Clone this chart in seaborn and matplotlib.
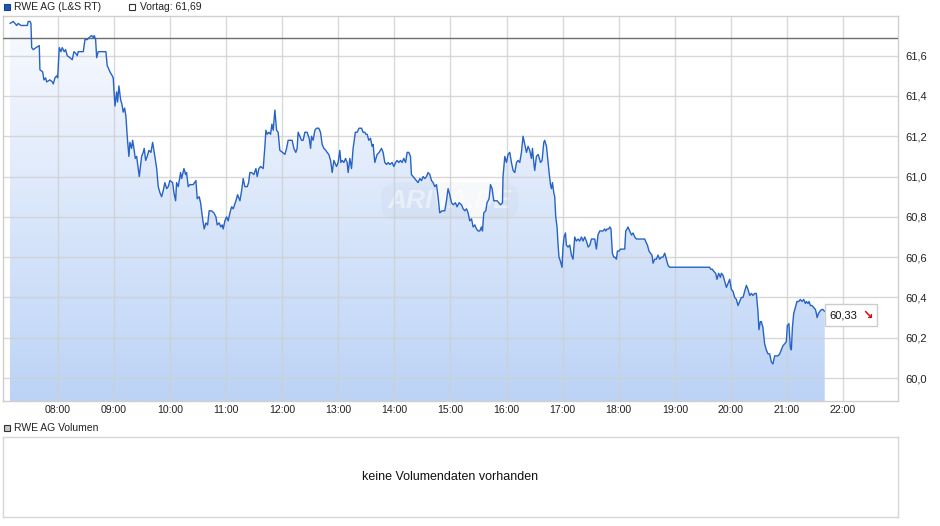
import numpy as np
import pandas as pd
import matplotlib
matplotlib.use("Agg")
import matplotlib.pyplot as plt
import matplotlib.dates as mdates
import seaborn as sns
from matplotlib.colors import LinearSegmentedColormap
from matplotlib.offsetbox import TextArea, HPacker, AnnotationBbox
from matplotlib.patches import Rectangle

# ---------------- data ----------------
minutes_after_0700 = [
    8.7, 12.2, 14.0, 15.8, 17.5, 20.4, 24.7, 27.2, 28.2, 30.1,
    31.1, 31.9, 33.6, 36.5, 40.0, 40.7, 43.6, 45.0, 46.8, 47.9,
    51.4, 53.9, 55.0, 56.8, 58.6, 59.7, 61.4, 63.2, 64.6, 66.7,
    68.2, 69.9, 72.8, 75.3, 77.1, 79.3, 80.6, 81.7, 83.5, 87.1,
    88.9, 91.3, 93.5, 96.0, 97.8, 98.8, 100.3, 101.4, 103.1, 108.4,
    111.3, 112.7, 113.8, 115.6, 118.1, 119.1, 121.0, 122.8, 123.8, 125.2,
    127.1, 128.4, 129.8, 131.3, 132.7, 134.1, 135.9, 137.0, 138.8, 139.9,
    141.3, 142.7, 144.2, 147.0, 149.5, 151.2, 152.3, 153.8, 155.5, 157.3,
    159.5, 161.3, 163.7, 165.6, 167.3, 169.1, 170.9, 172.6, 174.4, 176.3,
    178.0,
    179.8, 182.7, 184.1, 185.9, 186.9, 188.7, 191.2, 192.3, 194.8, 196.6,
    197.6, 199.4, 201.2, 204.7, 207.6, 209.0, 211.1, 212.6, 214.8, 216.5,
    218.3, 220.1, 221.8, 224.4, 226.8, 229.0, 230.4, 232.5, 234.3, 235.7,
    236.8, 238.6, 240.4, 242.1, 244.0, 245.8, 247.5, 250.4, 252.2, 254.7,
    256.5, 258.2, 260.0, 262.5, 264.0, 265.3, 267.2, 269.6, 271.8, 273.2,
    275.0, 276.8, 279.6, 281.4, 282.5, 283.9, 285.7, 287.5, 288.9, 290.3,
    292.1, 293.9, 295.6, 297.4, 300.3, 302.8, 304.6, 306.3, 308.1, 310.6,
    312.4, 314.5, 315.9, 317.0, 318.8, 320.6, 322.3, 324.2, 326.6, 328.8,
    330.3, 331.3, 333.0, 334.9, 336.7, 339.1, 340.9, 342.7, 344.5, 346.6,
    348.0, 349.8, 351.7, 353.4, 355.2, 357.0, 358.0, 359.8, 361.6, 362.7,
    364.1, 365.9, 367.7, 369.4, 370.5, 372.3,
    374.1, 375.8, 378.2, 380.1, 382.2, 384.8, 386.5, 388.3, 389.4, 390.8,
    392.6, 394.4, 396.1, 397.2, 399.0, 401.5, 403.6, 406.2, 407.9, 409.7,
    411.5, 413.3, 415.1, 417.5, 419.4, 421.2, 422.9, 424.7, 426.5, 428.2,
    430.0, 431.9, 433.6, 435.4, 437.2, 438.2, 440.0, 441.8, 443.6, 445.3,
    447.2, 449.0, 450.7, 452.5, 454.3, 456.0, 457.9, 459.7, 461.4, 463.2,
    465.0, 466.7, 468.5, 471.0, 473.9, 475.7, 477.4, 479.2, 481.1, 482.8,
    485.3, 487.0, 489.2, 491.8, 493.5, 495.3, 497.1, 498.8, 500.6, 502.5,
    504.2, 506.0, 507.8, 509.5, 511.3, 513.1, 514.2, 515.6, 517.7, 519.1,
    521.3, 522.8, 524.5, 526.3, 528.1, 529.8, 531.6, 533.5, 535.6, 536.2,
    538.1, 539.9, 541.6, 543.4, 545.2, 547.0, 548.8, 550.6, 552.3, 554.1,
    555.9, 557.6, 559.5, 561.3, 563.0, 564.8, 566.6, 567.7, 569.1, 570.1,
    571.9, 573.7,
    574.5, 576.3, 578.0, 579.8, 580.8, 582.7, 584.4, 585.5, 587.0, 588.0,
    589.1, 590.5, 591.5, 592.6, 594.0, 595.1, 596.1, 597.6, 599.3, 600.4,
    601.5, 603.0, 604.0, 605.8, 607.6, 609.4, 611.1, 612.9, 614.7, 616.5,
    618.3, 620.1, 621.8, 623.6, 625.4, 627.3, 629.1, 630.8, 632.5, 634.3,
    636.1, 637.8, 639.7, 641.5, 643.2, 645.0, 646.1, 647.5, 649.3, 650.4,
    651.7, 653.2, 654.6, 656.0, 657.5, 658.6, 660.3, 661.8, 664.6, 666.4,
    667.5, 668.9, 669.9, 671.8, 673.6, 675.3, 677.1, 678.9, 682.4, 687.8,
    689.6, 690.7, 692.4, 693.9, 695.6, 696.7, 698.5, 700.3, 702.0, 703.8,
    705.6, 707.4, 709.2, 711.0, 712.7, 714.5, 757.3, 758.4, 760.2, 761.6,
    763.7, 765.1, 766.9, 768.8, 769.8, 771.6, 773.4, 775.2, 776.9, 778.7,
    780.5, 782.3, 784.1, 785.9, 787.6, 789.4, 791.2, 793.0, 794.7, 796.6,
    798.3, 800.1, 801.9, 803.6, 805.4, 807.2, 809.0, 810.0, 811.5, 812.6,
    814.3, 816.1, 817.9, 819.7, 821.5, 823.3, 825.0, 826.8, 828.6, 830.4,
    832.2, 834.0, 835.7, 837.5, 839.3, 840.4, 842.1, 843.6, 844.7, 845.8,
    847.2, 849.0, 850.7, 852.5, 854.3, 856.1, 857.9, 859.7, 860.8, 862.5,
    863.6, 865.1, 866.8, 868.6, 870.5, 871.5, 872.2, 873.7, 875.1, 876.9,
    878.6, 880.4,
]

price = [
    61.76, 61.77, 61.76, 61.75, 61.76, 61.75, 61.75, 61.75, 61.77, 61.77,
    61.76, 61.64, 61.63, 61.64, 61.65, 61.53, 61.52, 61.48, 61.49, 61.47,
    61.48, 61.47, 61.46, 61.49, 61.50, 61.49, 61.64, 61.62, 61.64, 61.62,
    61.63, 61.60, 61.59, 61.58, 61.62, 61.61, 61.60, 61.62, 61.62, 61.62,
    61.68, 61.68, 61.69, 61.70, 61.69, 61.70, 61.68, 61.59, 61.62, 61.62,
    61.62, 61.55, 61.54, 61.52, 61.50, 61.49, 61.35, 61.42, 61.37, 61.45,
    61.38, 61.36, 61.32, 61.34, 61.30, 61.20, 61.10, 61.17, 61.14, 61.18,
    61.14, 61.09, 61.10, 61.00, 61.10, 61.12, 61.14, 61.08, 61.10, 61.13,
    61.12, 61.17, 61.10, 61.04, 60.95, 60.92, 60.90, 60.93, 60.97, 60.94,
    60.95,
    60.98, 60.97, 60.92, 60.88, 60.97, 60.95, 61.02, 60.99, 61.04, 61.01,
    61.02, 60.95, 60.96, 60.96, 60.98, 60.89, 60.90, 60.87, 60.79, 60.74,
    60.77, 60.76, 60.83, 60.83, 60.82, 60.80, 60.76, 60.77, 60.75, 60.76,
    60.74, 60.78, 60.80, 60.78, 60.82, 60.85, 60.84, 60.88, 60.91, 60.88,
    60.93, 60.99, 60.95, 60.95, 60.97, 61.02, 61.02, 61.01, 61.04, 61.00,
    61.04, 61.05, 61.04, 61.15, 61.23, 61.21, 61.22, 61.21, 61.26, 61.23,
    61.33, 61.23, 61.22, 61.13, 61.12, 61.11, 61.14, 61.18, 61.18, 61.18,
    61.14, 61.12, 61.14, 61.22, 61.20, 61.18, 61.18, 61.22, 61.22, 61.19,
    61.14, 61.20, 61.18, 61.23, 61.24, 61.24, 61.22, 61.16, 61.14, 61.13,
    61.12, 61.11, 61.08, 61.02, 61.08, 61.06, 61.05, 61.07, 61.13, 61.07,
    61.08, 61.07, 61.09, 61.07, 61.02, 61.09,
    61.04, 61.14, 61.22, 61.22, 61.24, 61.24, 61.22, 61.22, 61.21, 61.21,
    61.18, 61.19, 61.15, 61.16, 61.07, 61.11, 61.12, 61.14, 61.12, 61.07,
    61.06, 61.07, 61.06, 61.07, 61.05, 61.07, 61.08, 61.07, 61.08, 61.07,
    61.09, 61.07, 61.12, 61.12, 61.10, 61.01, 61.00, 60.99, 60.98, 60.97,
    60.99, 60.98, 61.00, 60.99, 61.00, 61.02, 61.01, 60.98, 60.97, 60.95,
    60.96, 60.90, 60.82, 60.83, 60.83, 60.88, 60.94, 60.91, 60.87, 60.86,
    60.87, 60.85, 60.87, 60.86, 60.84, 60.83, 60.84, 60.82, 60.78, 60.79,
    60.75, 60.76, 60.74, 60.73, 60.73, 60.75, 60.73, 60.82, 60.83, 60.87,
    60.89, 60.96, 60.94, 60.88, 60.88, 60.88, 60.87, 60.86, 60.87, 61.00,
    61.10, 61.07, 61.11, 61.12, 61.07, 61.03, 61.02, 61.07, 61.08, 61.07,
    61.12, 61.20, 61.16, 61.12, 61.15, 61.13, 61.09, 61.14, 61.07, 61.03,
    61.10, 61.11,
    61.10, 61.07, 61.08, 61.17, 61.18, 61.15, 61.07, 61.02, 60.96, 60.94,
    60.97, 60.92, 60.90, 60.80, 60.75, 60.66, 60.60, 60.58, 60.55, 60.65,
    60.70, 60.72, 60.66, 60.65, 60.66, 60.61, 60.59, 60.70, 60.68, 60.69,
    60.68, 60.70, 60.68, 60.70, 60.68, 60.65, 60.66, 60.69, 60.69, 60.69,
    60.64, 60.71, 60.73, 60.73, 60.73, 60.74, 60.73, 60.74, 60.74, 60.75,
    60.74, 60.62, 60.60, 60.60, 60.59, 60.63, 60.63, 60.64, 60.64, 60.64,
    60.73, 60.74, 60.75, 60.73, 60.71, 60.72, 60.70, 60.69, 60.69, 60.69,
    60.67, 60.66, 60.63, 60.62, 60.61, 60.57, 60.59, 60.59, 60.61, 60.59,
    60.60, 60.60, 60.62, 60.59, 60.56, 60.55, 60.55, 60.54, 60.54, 60.53,
    60.52, 60.49, 60.52, 60.50, 60.52, 60.51, 60.48, 60.45, 60.47, 60.49,
    60.44, 60.43, 60.40, 60.39, 60.36, 60.38, 60.40, 60.40, 60.43, 60.46,
    60.44, 60.41, 60.42, 60.41, 60.42, 60.42, 60.33, 60.24, 60.28, 60.28,
    60.25, 60.17, 60.14, 60.12, 60.12, 60.08, 60.07, 60.11, 60.11, 60.11,
    60.12, 60.14, 60.16, 60.17, 60.18, 60.26, 60.27, 60.15, 60.14, 60.25,
    60.32, 60.35, 60.38, 60.38, 60.39, 60.38, 60.39, 60.37, 60.38, 60.37,
    60.38, 60.36, 60.36, 60.35, 60.34, 60.32, 60.30, 60.32, 60.33, 60.34,
    60.34, 60.33,
]

prev_close = 61.69
y_ticks = [60.0, 60.2, 60.4, 60.6, 60.8, 61.0, 61.2, 61.4, 61.6]
y_tick_labels = ["60,0", "60,2", "60,4", "60,6", "60,8", "61,0", "61,2", "61,4", "61,6"]
x_tick_hours = [8, 9, 10, 11, 12, 13, 14, 15, 16, 17, 18, 19, 20, 21, 22]
x_tick_labels = ["08:00", "09:00", "10:00", "11:00", "12:00", "13:00", "14:00",
                 "15:00", "16:00", "17:00", "18:00", "19:00", "20:00", "21:00", "22:00"]
legend_series = "RWE AG (L&S RT)"
legend_prev = "Vortag: 61,69"
last_label = "60,33"
volume_title = "RWE AG Volumen"
volume_note = "keine Volumendaten vorhanden"
watermark = "ARIVA.DE"

# ---------------- style ----------------
sns.set_style("white")
plt.rcParams["font.family"] = ["Liberation Sans", "DejaVu Sans"]

W, H = 940, 526
base = pd.Timestamp("2024-01-01 07:00")
df = pd.DataFrame({
    "time": base + pd.to_timedelta(minutes_after_0700, unit="min"),
    "price": price,
})

fig = plt.figure(figsize=(W / 100, H / 100), dpi=100)
fig.patch.set_facecolor("white")

# main price axes (pixel box: x 3..898, y 16..401)
ax = fig.add_axes([3 / W, 1 - 401 / H, 895 / W, 385 / H])
ylo, yhi = 59.886, 61.797
xlo = base + pd.Timedelta(minutes=1.2)
xhi = base + pd.Timedelta(minutes=958.8)

# line via seaborn
sns.lineplot(data=df, x="time", y="price", ax=ax, color="#2763c6",
             linewidth=1.0, estimator=None, sort=False, zorder=4)

# gradient area under curve
poly = ax.fill_between(df["time"], df["price"], ylo, facecolor="none",
                       edgecolor="none")
cmap = LinearSegmentedColormap.from_list("g", ["#bcd3f6", "#f9fbff"])
grad = np.linspace(0, 1, 256).reshape(-1, 1)
x0n, x1n = mdates.date2num(xlo), mdates.date2num(xhi)
im = ax.imshow(grad, extent=[x0n, x1n, ylo, yhi], origin="lower", cmap=cmap,
               aspect="auto", zorder=1, interpolation="bilinear")
im.set_clip_path(poly.get_paths()[0], transform=ax.transData)

# previous close line
ax.axhline(prev_close, color="#6e6e6e", linewidth=1.0, zorder=3)

ax.set_xlim(xlo, xhi)
ax.set_ylim(ylo, yhi)

# ticks & grid
ax.yaxis.tick_right()
ax.set_yticks(y_ticks)
ax.set_yticklabels(y_tick_labels)
ax.set_xticks([base + pd.Timedelta(hours=h - 7) for h in x_tick_hours])
ax.set_xticklabels(x_tick_labels)
ax.tick_params(axis="y", length=0, pad=5, labelsize=8, colors="#222222")
ax.tick_params(axis="x", length=0, pad=3, labelsize=7.6, colors="#222222")
ax.set_xlabel("")
ax.set_ylabel("")
ax.set_axisbelow(False)
ax.grid(True, color="#cfcfcf", linewidth=1.0, alpha=0.8, zorder=2)
for gl in ax.get_xgridlines() + ax.get_ygridlines():
    gl.set_zorder(2)
for s in ax.spines.values():
    s.set_color("#cfcfcf")
    s.set_linewidth(1.0)

# watermark
ax.text((450 - 3) / 895, (401 - 201) / 385, watermark, transform=ax.transAxes,
        ha="center", va="center", fontsize=19, fontweight="bold",
        fontstyle="italic", color="white", alpha=0.45, zorder=2.5,
        bbox=dict(boxstyle="round,pad=0.25,rounding_size=0.6",
                  facecolor="#a8b6c8", edgecolor="none", alpha=0.09))

# last value label
last_t = df["time"].iloc[-1]
last_v = df["price"].iloc[-1]
ta1 = TextArea(last_label, textprops=dict(color="#111111", fontsize=8))
ta2 = TextArea("\u2198", textprops=dict(color="#e00000", fontsize=9,
                                         fontweight="bold",
                                         family=["DejaVu Sans"]))
pack = HPacker(children=[ta1, ta2], align="center", pad=0, sep=4)
ab = AnnotationBbox(pack, (mdates.date2num(last_t), last_v),
                    xybox=(3.0, -2.5), xycoords="data",
                    boxcoords="offset points", box_alignment=(0, 0.5),
                    frameon=True, pad=0.3,
                    bboxprops=dict(edgecolor="#cccccc", facecolor="white",
                                   linewidth=1.0))
ab.set_zorder(6)
ax.add_artist(ab)

# top legend
def fig_rect(x, y, w, h, fc, ec):
    fig.patches.append(Rectangle((x / W, 1 - (y + h) / H), w / W, h / H,
                                 facecolor=fc, edgecolor=ec, linewidth=0.8,
                                 transform=fig.transFigure, figure=fig))

fig_rect(3.5, 3.5, 6, 6, "#1f56b8", "#17428f")
fig.text(14 / W, 1 - 6.8 / H, legend_series, fontsize=7.5, color="#222222",
         ha="left", va="center")
fig_rect(128.5, 3.5, 6, 6, "white", "#333333")
fig.text(140 / W, 1 - 6.8 / H, legend_prev, fontsize=7.5, color="#222222",
         ha="left", va="center")

# volume panel
fig_rect(3.5, 424.5, 6, 6, "#c8c8c8", "#333333")
fig.text(14 / W, 1 - 427.8 / H, volume_title, fontsize=7.5, color="#222222",
         ha="left", va="center")
axv = fig.add_axes([3 / W, 1 - 517 / H, 895 / W, 80 / H])
axv.set_xticks([])
axv.set_yticks([])
for s in axv.spines.values():
    s.set_color("#d6d6d6")
    s.set_linewidth(1.0)
axv.text(0.5, 0.5, volume_note, transform=axv.transAxes, ha="center",
         va="center", fontsize=9, color="#111111")

fig.savefig("out.png", dpi=100, facecolor="white")
